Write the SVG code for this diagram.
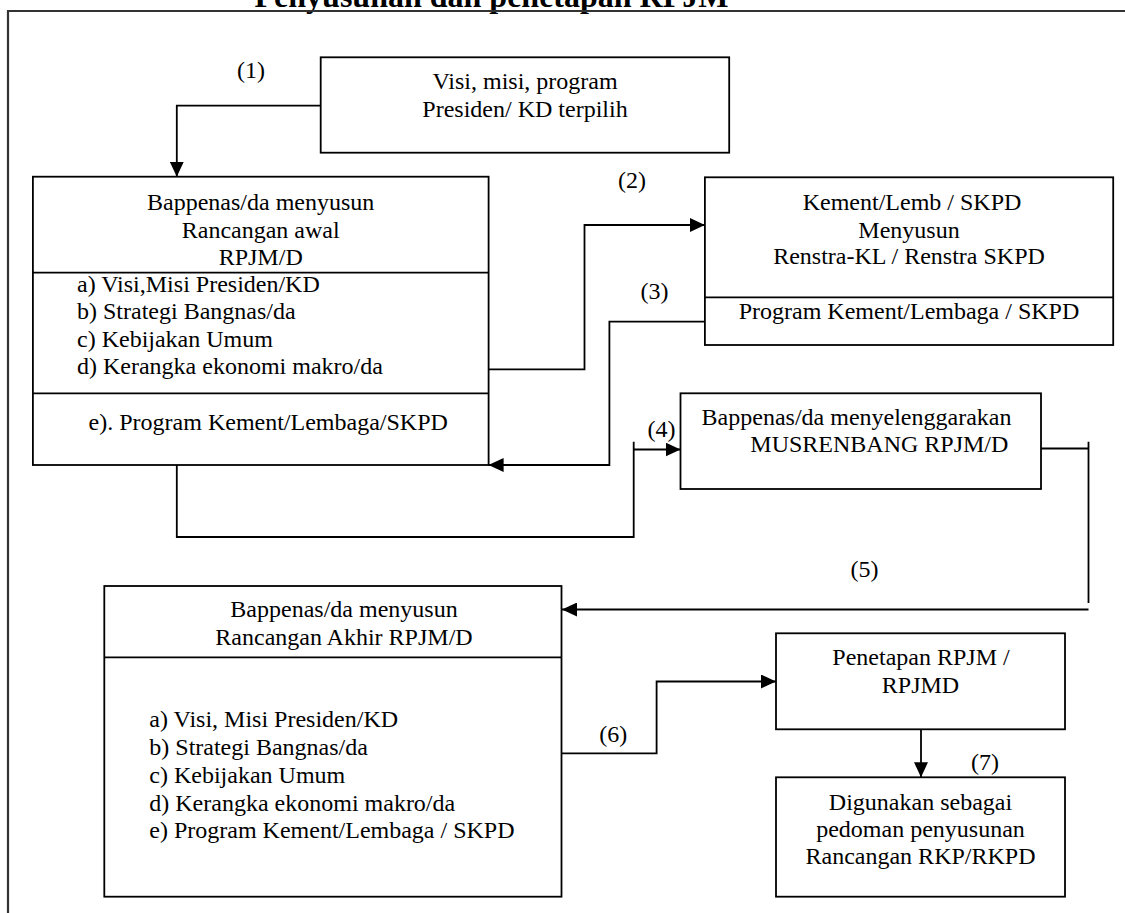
<svg xmlns="http://www.w3.org/2000/svg" width="1125" height="913" viewBox="0 0 1125 913">
<defs>
<style>
.box{fill:#fff;stroke:#000;stroke-width:1.8}
.div{stroke:#000;stroke-width:1.8;fill:none}
.con{stroke:#000;stroke-width:1.8;fill:none}
.frame{stroke:#333;stroke-width:2.2;fill:none}
text{font-family:"Liberation Serif","Times New Roman",serif;font-size:24px;fill:#000}
.c{text-anchor:middle}
.title{font-weight:bold;font-size:32px}
</style>
<marker id="ah" markerUnits="userSpaceOnUse" markerWidth="15" markerHeight="14" refX="15" refY="7" orient="auto">
<path d="M0,0 L15,7 L0,14 z" fill="#000"/>
</marker>
</defs>
<rect width="1125" height="913" fill="#fff"/>
<text class="title c" x="491.5" y="6.5">Penyusunan dan penetapan RPJM</text>
<path class="frame" d="M8,913 V11 H1125"/>

<g id="visi">
<rect class="box" x="320.7" y="57.3" width="408.5" height="95.4"/>
<text class="c" x="525" y="89.3">Visi, misi, program</text>
<text class="c" x="525" y="116.7">Presiden/ KD terpilih</text>
</g>

<g id="rancangan-awal">
<rect class="box" x="32.9" y="176.7" width="455.7" height="288.3"/>
<path class="div" d="M32.9,272.7 H488.6 M32.9,393.3 H488.6"/>
<text class="c" x="260.7" y="210">Bappenas/da menyusun</text>
<text class="c" x="260.7" y="237.5">Rancangan awal</text>
<text class="c" x="260.7" y="265">RPJM/D</text>
<text x="77" y="291.5">a) Visi,Misi Presiden/KD</text>
<text x="77" y="319">b) Strategi Bangnas/da</text>
<text x="77" y="346.5">c) Kebijakan Umum</text>
<text x="77" y="374">d) Kerangka ekonomi makro/da</text>
<text x="88.6" y="430">e). Program Kement/Lembaga/SKPD</text>
</g>

<g id="renstra">
<rect class="box" x="704.9" y="177.3" width="408.3" height="167.7"/>
<path class="div" d="M704.9,297.3 H1113.2"/>
<text class="c" x="912" y="210">Kement/Lemb / SKPD</text>
<text class="c" x="909" y="237.5">Menyusun</text>
<text class="c" x="909" y="263.5">Renstra-KL / Renstra SKPD</text>
<text class="c" x="909" y="318.5">Program Kement/Lembaga / SKPD</text>
</g>

<g id="musrenbang">
<rect class="box" x="680.5" y="393.3" width="360.5" height="95.7"/>
<text x="701.6" y="425">Bappenas/da menyelenggarakan</text>
<text x="750.3" y="452">MUSRENBANG RPJM/D</text>
</g>

<g id="rancangan-akhir">
<rect class="box" x="104.3" y="586" width="457.2" height="310.7"/>
<path class="div" d="M104.3,657.3 H561.5"/>
<text class="c" x="344" y="617">Bappenas/da menyusun</text>
<text class="c" x="344" y="644.5">Rancangan Akhir RPJM/D</text>
<text x="149.3" y="726.7">a) Visi, Misi Presiden/KD</text>
<text x="149.3" y="755">b) Strategi Bangnas/da</text>
<text x="149.3" y="783">c) Kebijakan Umum</text>
<text x="149.3" y="810.5">d) Kerangka ekonomi makro/da</text>
<text x="149.3" y="838">e) Program Kement/Lembaga / SKPD</text>
</g>

<g id="penetapan">
<rect class="box" x="776" y="633.3" width="289" height="96"/>
<text class="c" x="921" y="665">Penetapan RPJM /</text>
<text class="c" x="920.5" y="693">RPJMD</text>
</g>

<g id="digunakan">
<rect class="box" x="776" y="777.3" width="289" height="119.4"/>
<text class="c" x="920.5" y="810">Digunakan sebagai</text>
<text class="c" x="920.5" y="837">pedoman penyusunan</text>
<text class="c" x="920.5" y="864">Rancangan RKP/RKPD</text>
</g>

<g id="connectors">
<path class="con" d="M320.7,105.7 H176.8 V176.7" marker-end="url(#ah)"/>
<path class="con" d="M488.6,369.3 H584.5 V225 H704.9" marker-end="url(#ah)"/>
<path class="con" d="M704.9,321.7 H609.4 V465 H488.6" marker-end="url(#ah)"/>
<path class="con" d="M176.8,465 V537 H633.7 V441.7 M633.7,449.5 H680.5" marker-end="url(#ah)"/>
<path class="con" d="M1041,448.5 H1088.5 M1088.5,441.7 V603 M1088.5,609.5 H562" marker-end="url(#ah)"/>
<path class="con" d="M561.5,753.3 H656.6 V681.5 H776" marker-end="url(#ah)"/>
<path class="con" d="M921,729.3 V777.3" marker-end="url(#ah)"/>
<text class="c" x="251" y="78">(1)</text>
<text class="c" x="632" y="188">(2)</text>
<text class="c" x="654.5" y="298.5">(3)</text>
<text class="c" x="661.5" y="436.7">(4)</text>
<text class="c" x="864.5" y="576.7">(5)</text>
<text class="c" x="613.3" y="741.7">(6)</text>
<text class="c" x="985" y="770">(7)</text>
</g>
</svg>
